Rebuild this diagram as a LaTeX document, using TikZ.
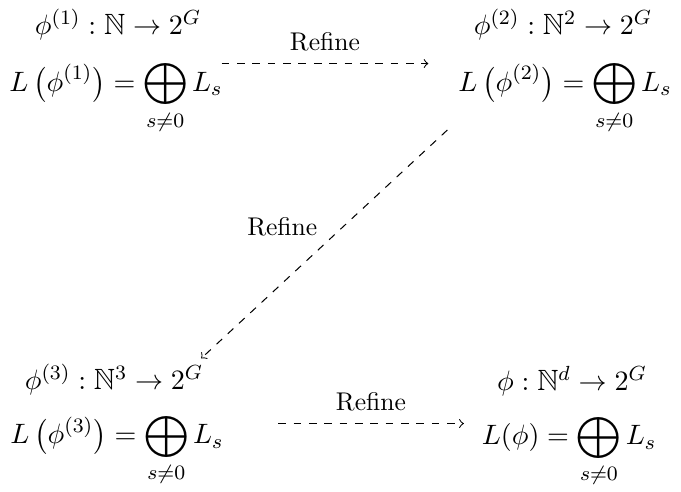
\documentclass[tikz,border=0pt]{standalone}
\usepackage{amsmath,amssymb}
\usetikzlibrary{calc}
\begin{document}
\begin{tikzpicture}[x=0.3906pt,y=-0.3906pt,
  txt/.style={anchor=base,inner sep=1pt,font=\fontsize{11.45}{14}\selectfont},
  arr/.style={->,dashed,line width=0.4pt},
  lbl/.style={inner sep=1pt}]
\useasboundingbox (0,0) rectangle (681,492);
% top-left
\node[txt] (a1) at (118,35) {$\phi^{(1)}:\mathbb{N}\to 2^G$};
\node[txt] (b1) at (116,91.5) {$\displaystyle L\,\bigl(\phi^{(1)}\bigr)=\bigoplus_{s\neq0}L_s$};
% top-right
\node[txt] (a2) at (563,35) {$\phi^{(2)}:\mathbb{N}^2\to 2^G$};
\node[txt] (b2) at (565,91.5) {$\displaystyle L\,\bigl(\phi^{(2)}\bigr)=\bigoplus_{s\neq0}L_s$};
% bottom-left
\node[txt] (a3) at (114,390) {$\phi^{(3)}:\mathbb{N}^3\to 2^G$};
\node[txt] (b3) at (117,444) {$\displaystyle L\,\bigl(\phi^{(3)}\bigr)=\bigoplus_{s\neq0}L_s$};
% bottom-right
\node[txt] (a4) at (572,391) {$\phi:\mathbb{N}^d\to 2^G$};
\node[txt] (b4) at (569,445) {$\displaystyle L(\phi)=\bigoplus_{s\neq0}L_s$};
% arrows
\draw[arr] ([shift={(-4,5.6)}]b1.north east) -- node[lbl,above=3.5pt] (r1) {Refine} ([shift={(-27,5.6)}]b2.north west);
\draw[arr] ([shift={(-8,-7)}]b2.south west) -- node[lbl,midway,shift={(-42,-17)}] (r2) {Refine} ([shift={(-5,-3)}]a3.north east);
\draw[arr] ([shift={(51.5,13.1)}]b3.north east) coordinate (s3) -- node[lbl,above=3.5pt] (r3) {Refine} ($(s3 -| b4.west)+(-15,0)$);
\end{tikzpicture}
\end{document}
